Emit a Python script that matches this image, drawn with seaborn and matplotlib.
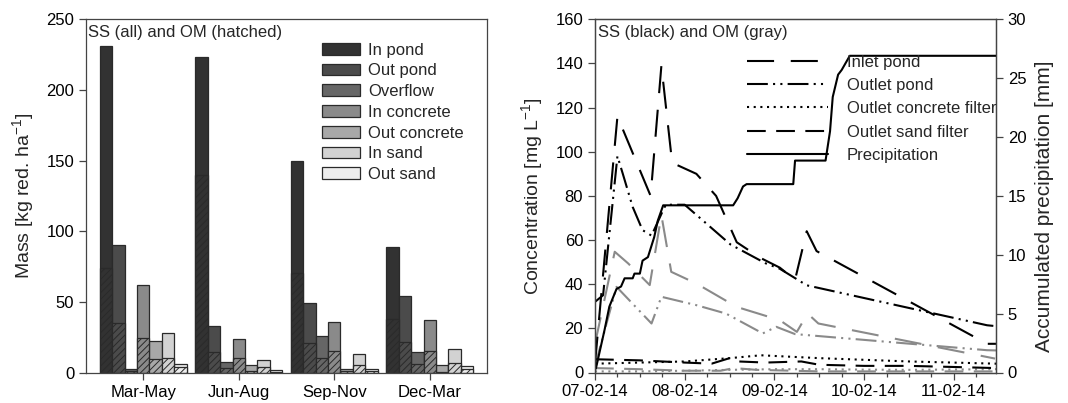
import numpy as np
import pandas as pd
import matplotlib
matplotlib.use("Agg")
import matplotlib.pyplot as plt
import seaborn as sns
from matplotlib.patches import Patch
from matplotlib.lines import Line2D
from matplotlib.ticker import MultipleLocator

# ---------------- data: left panel (mass per season) ----------------
periods = ["Mar-May", "Jun-Aug", "Sep-Nov", "Dec-Mar"]
sites = ["In pond", "Out pond", "Overflow", "In concrete", "Out concrete", "In sand", "Out sand"]

ss_in_pond = [231, 223, 150, 89]
ss_out_pond = [90, 33, 49, 54]
ss_overflow = [2.4, 7.3, 25.7, 14.9]
ss_in_concrete = [62, 23.6, 35.8, 37.3]
ss_out_concrete = [22.2, 5.7, 2.4, 5.2]
ss_in_sand = [28.3, 9.0, 13.0, 16.7]
ss_out_sand = [6.4, 1.9, 2.6, 5.0]

om_in_pond = [74, 140, 70.3, 37.7]
om_out_pond = [35.4, 14.9, 21.2, 21.9]
om_overflow = [1.5, 3.1, 10.6, 5.9]
om_in_concrete = [24.3, 10.1, 15.6, 15.3]
om_out_concrete = [9.7, 1.2, 1.0, 0.8]
om_in_sand = [10.6, 3.8, 5.7, 7.1]
om_out_sand = [4.2, 0.5, 1.0, 2.4]

# ---------------- data: right panel (event, x in days from 07-02-14) ----------------
date_labels = ["07-02-14", "08-02-14", "09-02-14", "10-02-14", "11-02-14"]

inlet_ss_x = [0.0, 0.25, 0.62, 0.74, 0.86, 1.13, 1.35, 1.58, 1.84, 2.06, 2.23, 2.36, 2.47, 4.37, 4.47]
inlet_ss_y = [4, 116, 80, 139, 95, 90, 80, 59, 52, 47.5, 42, 64, 55, 13, 13]

outpond_ss_x = [0.0, 0.09, 0.25, 0.31, 0.42, 0.53, 0.63, 0.76, 0.79, 1.0, 1.51, 1.9, 2.06, 2.36, 4.37, 4.47]
outpond_ss_y = [32, 35, 98, 90, 75, 64.5, 62, 73.6, 76, 76, 58, 49.5, 47, 39.5, 21.4, 21]

concrete_ss_x = [0.0, 0.5, 1.0, 1.5, 1.85, 2.5, 3.5, 4.47]
concrete_ss_y = [4, 4.5, 5, 6.5, 7.8, 6.5, 5, 4]

sand_ss_x = [0.0, 0.5, 1.0, 1.3, 1.5, 1.6, 1.9, 2.3, 2.5, 3.0, 3.5, 4.0, 4.47]
sand_ss_y = [6, 5.5, 4.5, 4, 6.5, 5, 4.5, 5, 3.5, 3, 3, 2.5, 2]

inlet_om_x = [0.0, 0.22, 0.37, 0.61, 0.74, 0.85, 1.13, 1.58, 2.06, 2.25, 2.37, 2.49, 4.46]
inlet_om_y = [13, 54.7, 49.4, 39.6, 71.3, 45.6, 40.3, 29.7, 23.7, 18.4, 26.7, 22.2, 6.3]

outpond_om_x = [0.0, 0.24, 0.63, 0.74, 1.13, 1.46, 1.87, 2.02, 2.23, 4.37, 4.47]
outpond_om_y = [3, 38.8, 22.2, 34.3, 30.5, 26.7, 17.7, 20.7, 17.4, 10.1, 10]

concrete_om_x = [0.0, 0.5, 1.0, 1.5, 2.0, 2.5, 3.0, 3.5, 4.47]
concrete_om_y = [0.5, 0.5, 0.8, 1.2, 1.5, 1.5, 1.3, 1.2, 1.5]

sand_om_x = [0.0, 0.5, 1.0, 1.4, 1.55, 1.8, 2.0, 2.5, 3.0, 4.47]
sand_om_y = [2, 1.5, 0.8, 0.8, 2, 1.2, 1, 0.5, 0.5, 0.5]

precip_x = [0.0, 0.01, 0.106, 0.16, 0.24, 0.29, 0.33, 0.42, 0.44, 0.50, 0.53, 0.59, 0.66, 0.70, 0.76,
            1.54, 1.59, 1.65, 1.69, 2.21, 2.23, 2.57, 2.62, 2.65, 2.71, 2.75, 2.84, 4.47]
precip_y = [0.3, 0.34, 3.6, 5.6, 7.1, 7.3, 8.0, 8.0, 8.4, 8.4, 9.5, 9.8, 11.5, 12.9, 14.2,
            14.2, 14.8, 15.8, 16.0, 16.0, 18.0, 18.0, 20.5, 23.4, 25.3, 25.7, 26.9, 26.9]

# ---------------- style ----------------
sns.set_style("ticks")
plt.rcParams["font.family"] = ["Liberation Sans", "DejaVu Sans"]
plt.rcParams["mathtext.fontset"] = "custom"
plt.rcParams["mathtext.rm"] = "Liberation Sans"
plt.rcParams["mathtext.it"] = "Liberation Sans:italic"
plt.rcParams["mathtext.default"] = "regular"
plt.rcParams["hatch.linewidth"] = 0.7

FS = 12
LAB = 14
spine_c = "#444444"
edge = "#2a2a2a"
bar_colors = ["#323232", "#4b4b4b", "#666666", "#8a8a8a", "#a8a8a8", "#d2d2d2", "#ededed"]
palette = dict(zip(sites, bar_colors))

ss_cols = [ss_in_pond, ss_out_pond, ss_overflow, ss_in_concrete, ss_out_concrete, ss_in_sand, ss_out_sand]
om_cols = [om_in_pond, om_out_pond, om_overflow, om_in_concrete, om_out_concrete, om_in_sand, om_out_sand]
rows = []
for s, ssv, omv in zip(sites, ss_cols, om_cols):
    for p, a, b in zip(periods, ssv, omv):
        rows.append({"period": p, "site": s, "SS": a, "OM": b})
bars = pd.DataFrame(rows)

W, H = 1068, 403
fig = plt.figure(figsize=(W / 100, H / 100), dpi=100)
ax1 = fig.add_axes([86 / W, 1 - 372.7 / H, (487 - 86) / W, (372.7 - 19.3) / H])
ax2 = fig.add_axes([595 / W, 1 - 372.5 / H, (996 - 595) / W, (372.5 - 19.3) / H])

# ---------------- left panel ----------------
sns.barplot(data=bars, x="period", y="SS", hue="site", order=periods, hue_order=sites,
            palette=palette, saturation=1, width=0.91, edgecolor=edge, linewidth=0.9,
            errorbar=None, legend=False, ax=ax1)
n0 = len(ax1.patches)
sns.barplot(data=bars, x="period", y="OM", hue="site", order=periods, hue_order=sites,
            palette=palette, saturation=1, width=0.91, edgecolor=edge, linewidth=0.9,
            errorbar=None, legend=False, ax=ax1)
for p in ax1.patches[n0:]:
    p.set_hatch("/////")

ax1.set_xlim(-0.6, 3.6)
ax1.set_ylim(0, 250)
ax1.set_yticks(np.arange(0, 251, 50))
ax1.set_xlabel("")
ax1.set_ylabel("Mass [kg red. ha$^{-1}$]", fontsize=LAB)
ax1.yaxis.set_label_coords(-0.125, 0.5)
ax1.text(0.006, 0.985, "SS (all) and OM (hatched)", transform=ax1.transAxes,
         ha="left", va="top", fontsize=FS)
handles = [Patch(facecolor=c, edgecolor=edge, linewidth=0.9, label=s) for s, c in zip(sites, bar_colors)]
ax1.legend(handles=handles, loc="upper left", bbox_to_anchor=(0.589, 0.934), frameon=False,
           fontsize=FS, handlelength=2.25, handleheight=0.7, handletextpad=0.5,
           labelspacing=0.345, borderpad=0, borderaxespad=0)

# ---------------- right panel ----------------
gray = "#8a8a8a"
lw = 1.5
ls_long = (0, (13, 8))
ls_dd = (0, (10, 2.5, 1, 2.5, 1, 2.5))
ls_dot = (0, (1, 2.2))
ls_short = (0, (9, 5))


def draw(ax, x, y, color, ls):
    sns.lineplot(x=x, y=y, ax=ax, color=color, linestyle=ls, linewidth=lw,
                 sort=False, estimator=None, legend=False)


draw(ax2, concrete_om_x, concrete_om_y, gray, ls_dot)
draw(ax2, sand_om_x, sand_om_y, gray, ls_short)
draw(ax2, outpond_om_x, outpond_om_y, gray, ls_dd)
draw(ax2, inlet_om_x, inlet_om_y, gray, ls_long)
draw(ax2, concrete_ss_x, concrete_ss_y, "black", ls_dot)
draw(ax2, sand_ss_x, sand_ss_y, "black", ls_short)
draw(ax2, outpond_ss_x, outpond_ss_y, "black", ls_dd)
draw(ax2, inlet_ss_x, inlet_ss_y, "black", ls_long)

ax3 = ax2.twinx()
draw(ax3, precip_x, precip_y, "black", "-")

ax2.set_xlim(0, 4.47)
ax2.set_xticks(range(len(date_labels)))
ax2.set_xticklabels(date_labels)
ax2.xaxis.set_minor_locator(MultipleLocator(0.25))
ax2.set_ylim(0, 160)
ax2.set_yticks(np.arange(0, 161, 20))
ax3.set_ylim(0, 30)
ax3.set_yticks(np.arange(0, 31, 5))
ax2.set_xlabel("")
ax2.set_ylabel("Concentration [mg L$^{-1}$]", fontsize=LAB)
ax2.yaxis.set_label_coords(-0.125, 0.5)
ax3.set_ylabel("Accumulated precipitation [mm]", fontsize=LAB + 1)
ax3.yaxis.set_label_coords(1.098, 0.47)
ax2.text(0.008, 0.985, "SS (black) and OM (gray)", transform=ax2.transAxes,
         ha="left", va="top", fontsize=FS)

lh = [Line2D([], [], color="black", lw=lw, linestyle=ls_long, label="Inlet pond"),
      Line2D([], [], color="black", lw=lw, linestyle=ls_dd, label="Outlet pond"),
      Line2D([], [], color="black", lw=lw, linestyle=ls_dot, label="Outlet concrete filter"),
      Line2D([], [], color="black", lw=lw, linestyle=ls_short, label="Outlet sand filter"),
      Line2D([], [], color="black", lw=lw, linestyle="-", label="Precipitation")]
ax3.legend(handles=lh, loc="upper left", bbox_to_anchor=(0.378, 0.9), frameon=False,
           fontsize=FS, handlelength=4.9, handletextpad=1.1, labelspacing=0.5,
           borderpad=0, borderaxespad=0)

# ---------------- axes cosmetics ----------------
for ax in (ax1, ax2, ax3):
    for sp in ax.spines.values():
        sp.set_color(spine_c)
        sp.set_linewidth(0.9)
    ax.tick_params(which="both", direction="out", color=spine_c, width=0.9, labelsize=FS,
                   colors="black")
    ax.tick_params(which="major", length=5)
    ax.tick_params(which="minor", length=3)
for ax in (ax1, ax2, ax3):
    ax.tick_params(axis="both", which="both", color=spine_c)

fig.savefig("out.png", dpi=100)
